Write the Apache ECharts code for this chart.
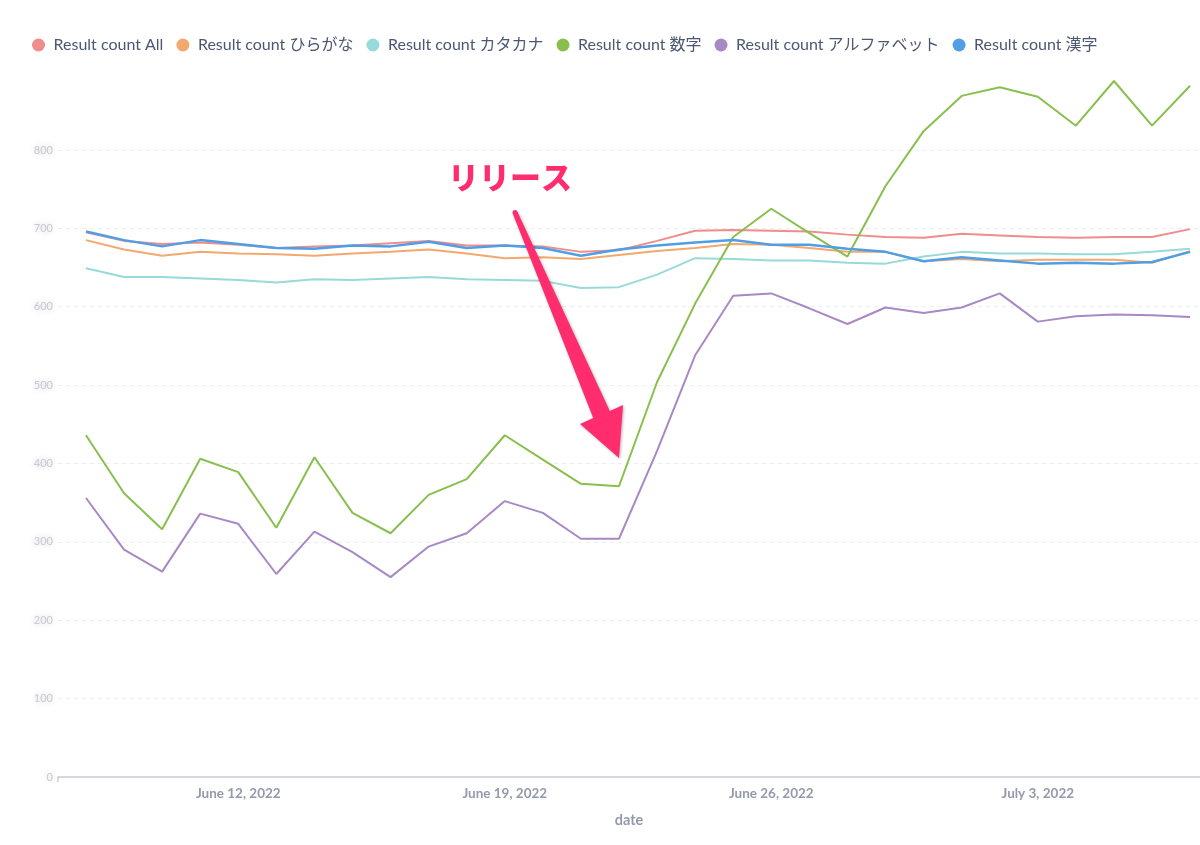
<!DOCTYPE html>
<html>
<head>
<meta charset="utf-8">
<script src="https://cdn.jsdelivr.net/npm/echarts@6/dist/echarts.min.js"></script>
<style>
html,body{margin:0;padding:0;background:#fff;}
#chart{width:1200px;height:845px;}
</style>
</head>
<body>
<div id="chart"></div>
<script>
// ---- data ----
const dates = [
  '2022-06-08','2022-06-09','2022-06-10','2022-06-11','2022-06-12','2022-06-13','2022-06-14','2022-06-15',
  '2022-06-16','2022-06-17','2022-06-18','2022-06-19','2022-06-20','2022-06-21','2022-06-22','2022-06-23',
  '2022-06-24','2022-06-25','2022-06-26','2022-06-27','2022-06-28','2022-06-29','2022-06-30','2022-07-01',
  '2022-07-02','2022-07-03','2022-07-04','2022-07-05','2022-07-06','2022-07-07'
];
const tickDates = ['2022-06-12','2022-06-19','2022-06-26','2022-07-03'];
const tickLabels = ['June 12, 2022','June 19, 2022','June 26, 2022','July 3, 2022'];
const yTicks = [0,100,200,300,400,500,600,700,800];

const seriesNames = ['Result count All','Result count ひらがな','Result count カタカナ','Result count 数字','Result count アルファベット','Result count 漢字'];
const countAll      = [695,684,680,682,679,675,677,678,681,684,678,678,677,670,672,684,697,698,697,696,692,689,688,693,691,689,688,689,689,699];
const countHiragana = [685,673,665,670,668,667,665,668,670,673,668,662,663,661,666,671,675,680,679,675,670,670,658,661,658,660,660,660,656,671];
const countKatakana = [649,638,638,636,634,631,635,634,636,638,635,634,633,624,625,641,662,661,659,659,656,655,664,670,668,668,667,667,670,674];
const countNumber   = [436,362,316,406,389,318,408,337,311,360,380,436,405,374,371,504,604,689,725,694,664,754,824,869,880,868,831,888,831,882];
const countAlpha    = [356,290,262,336,323,259,313,287,255,294,311,352,337,304,304,416,538,614,617,598,578,599,592,599,617,581,588,590,589,587];
const countKanji    = [696,685,677,685,680,675,674,678,677,683,675,678,675,665,673,678,682,685,679,679,674,670,658,663,659,655,656,655,657,670];
const allSeries = [countAll,countHiragana,countKatakana,countNumber,countAlpha,countKanji];
const colors = ['#EF8C8C','#F2A86F','#98D9D9','#88BF4D','#A989C5','#509EE3'];

const annotationText = 'リリース';

// ---- chart ----
const chart = echarts.init(document.getElementById('chart'), null, {renderer:'canvas'});
const xMin = -0.735, xMax = 29.26;
const font = 'Lato, "Noto Sans CJK JP", sans-serif';

const option = {
  animation:false,
  color: colors,
  legend:{
    left:27, top:32,
    icon:'circle',
    itemWidth:20, itemHeight:13,
    itemGap:13,
    textStyle:{fontFamily:font, fontSize:16, color:'#4C5773'},
    data: seriesNames
  },
  grid:{left:58, right:0, top:71.6, bottom:68, containLabel:false},
  xAxis:{
    type:'value', min:xMin, max:xMax,
    name:'date', nameLocation:'middle', nameGap:36,
    nameTextStyle:{fontFamily:font, fontSize:14.5, fontWeight:'bold', color:'#949AAB'},
    axisLine:{show:true, lineStyle:{color:'#C9CCD6', width:1.5}},
    axisTick:{show:true, customValues:[xMin], length:5, lineStyle:{color:'#C9CCD6', width:1.5}},
    splitLine:{show:false},
    axisLabel:{
      customValues: tickDates.map(d => dates.indexOf(d)),
      margin:10,
      fontFamily:font, fontSize:13.5, fontWeight:'bold', color:'#949AAB',
      formatter: v => { const d = dates[Math.round(v)]; const k = tickDates.indexOf(d); return k >= 0 ? tickLabels[k] : ''; }
    }
  },
  yAxis:{
    type:'value', min:0, max:900, interval:100,
    axisLine:{show:false}, axisTick:{show:false},
    splitLine:{show:true, showMaxLine:false, showMinLine:false, lineStyle:{color:'#ECEEF2', type:[4,4], width:1}},
    axisLabel:{
      showMaxLabel:false,
      margin:5,
      fontFamily:font, fontSize:11, color:'rgba(185,188,200,0.75)',
      textShadowColor:'rgba(185,188,200,0.9)', textShadowBlur:5,
      formatter: v => yTicks.indexOf(v) >= 0 ? String(v) : ''
    }
  },
  series: seriesNames.map((name, s) => ({
    name: name,
    type:'line',
    symbol:'none',
    showSymbol:false,
    lineStyle:{width: s === 5 ? 2.5 : 2, color: colors[s]},
    itemStyle:{color: colors[s]},
    data: allSeries[s].map((v, i) => [i, v])
  })),
  graphic:[
    {
      type:'polygon', z:100,
      shape:{points:[[512.7,213.5],[517.3,211.5],[609.8,411],[623,405],[619,458],[580,424],[593.2,418]]},
      style:{fill:'#FF2D6D', shadowBlur:3, shadowColor:'rgba(0,0,0,0.3)', shadowOffsetX:1, shadowOffsetY:1}
    },
    {
      type:'circle', z:100,
      shape:{cx:515, cy:212.5, r:2.5},
      style:{fill:'#FF2D6D'}
    },
    {
      type:'text', z:101,
      x:510, y:177,
      style:{
        text: annotationText,
        align:'center', verticalAlign:'middle',
        font:'900 31px "Noto Sans CJK JP", sans-serif',
        fill:'#FF2D6D',
        stroke:'#ffffff', lineWidth:4,
        shadowBlur:4, shadowColor:'rgba(0,0,0,0.35)', shadowOffsetX:1, shadowOffsetY:1
      }
    }
  ]
};
chart.setOption(option);
</script>
</body>
</html>
